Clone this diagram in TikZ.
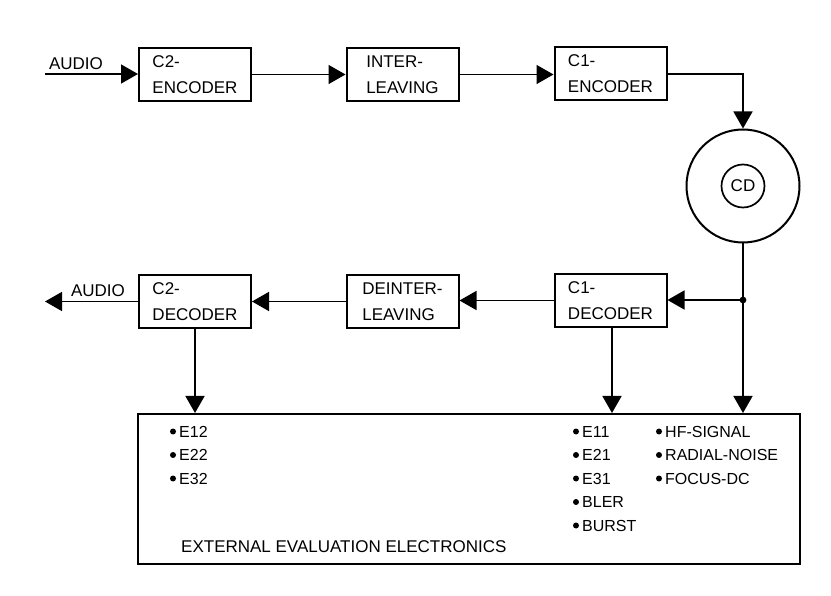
\documentclass[tikz,border=0pt]{standalone}
\usepackage{fontspec}
\setmainfont{Liberation Sans}
\usetikzlibrary{arrows.meta}
\begin{document}
\begin{tikzpicture}[x=1pt,y=-1pt,
  blk/.style={draw, line width=2pt, minimum width=112pt, minimum height=53pt,
    align=left, inner sep=0pt, font=\fontsize{17}{26}\selectfont},
  conn/.style={line width=1.6pt},
  arr/.style={conn, -{Triangle[length=17pt,width=19pt]}},
  lbl/.style={inner sep=0pt, font=\fontsize{17}{20}\selectfont},
  itm/.style={inner sep=0pt, anchor=base west, font=\fontsize{16}{20}\selectfont}]
\useasboundingbox (0,0) rectangle (831,596);
% top row
\node[blk] (c2enc) at (195,74.5) {C2-\\ENCODER};
\node[blk] (inter) at (402.5,74.5) {INTER-\\LEAVING};
\node[blk] (c1enc) at (610.5,74) {C1-\\ENCODER};
% CD
\node[draw, circle, line width=2pt, minimum size=113pt, inner sep=0pt] (cd) at (743,186) {};
\node[draw, circle, line width=1.7pt, minimum size=43pt, inner sep=0pt, lbl] (cdin) at (743,186) {CD};
% bottom row
\node[blk] (c2dec) at (195,301.5) {C2-\\DECODER};
\node[blk] (deint) at (402.5,301.5) {DEINTER-\\LEAVING};
\node[blk] (c1dec) at (610.5,300.5) {C1-\\DECODER};
% external box
\node[draw, line width=2pt, minimum width=662pt, minimum height=150pt, inner sep=0pt] (ext) at (469,489) {};
% audio labels
\coordinate (ain) at (45,74);
\coordinate (aout) at (45,301);
\node[lbl, anchor=base] (audioin) at (76,70) {AUDIO};
\node[lbl, anchor=base] (audioout) at (98,297) {AUDIO};
% junction
\coordinate (j) at (743,300);
\fill (j) circle (3.4pt);
% connectors
\draw[arr] (ain) -- (ain -| c2enc.west);
\draw[arr] (c2enc.east) -- (c2enc.east -| inter.west);
\draw[arr] (inter.east) -- (inter.east -| c1enc.west);
\draw[arr] (c1enc.east) -| (cd.north);
\draw[conn] (cd.south) -- (j);
\draw[arr] (j) -- (j -| c1dec.east);
\draw[arr] (j) -- (j |- ext.north);
\draw[arr] (c1dec.west) -- (c1dec.west -| deint.east);
\draw[arr] (deint.west) -- (deint.west -| c2dec.east);
\draw[arr] (c2dec.west) -- (c2dec.west -| aout);
\draw[arr] (c2dec.south) -- (c2dec.south |- ext.north);
\draw[arr] ([xshift=1.5pt]c1dec.south) -- ([xshift=1.5pt]c1dec.south |- ext.north);
% list items
\foreach \x/\y/\t/\n in {173/437/E12/e12, 173/460.5/E22/e22, 173/484/E32/e32,
    576/437/E11/e11, 576/460.5/E21/e21, 576/484/E31/e31, 576/507.5/BLER/bler, 576/531/BURST/burst,
    659/437/HF-SIGNAL/hf, 659/460.5/RADIAL-NOISE/rad, 659/484/FOCUS-DC/foc}{
  \fill (\x,\y-5.5) circle (3pt);
  \node[itm] (\n) at (\x+6,\y) {\t};
}
\node[lbl, anchor=base west] (exttxt) at (181,552) {EXTERNAL EVALUATION ELECTRONICS};
\end{tikzpicture}
\end{document}
